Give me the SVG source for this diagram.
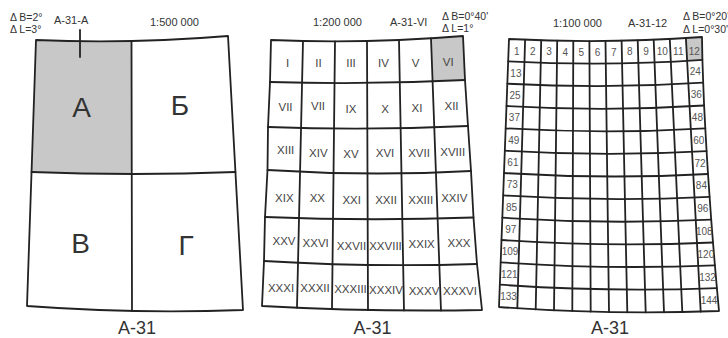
<svg xmlns="http://www.w3.org/2000/svg" width="728" height="338" viewBox="0 0 728 338">
<style>
.g{fill:none;stroke:#222;stroke-width:1.8;stroke-linejoin:round;stroke-linecap:round}
.sh{fill:#c8c8c8;stroke:none}
text{font-family:"Liberation Sans",Arial,sans-serif;fill:#333}
.t{font-size:11px}
.d{font-size:10.5px}
.big{font-size:28px;text-anchor:middle}
.ttl{font-size:18px;text-anchor:middle}
.r{font-size:11.5px;text-anchor:middle;fill:#444}
.n{font-size:10px;text-anchor:middle;fill:#555}
</style>
<rect width="728" height="338" fill="#fff"/>

<!-- Panel 1: 1:500 000 -->
<g id="sheet-500k">
  <path class="sh" d="M36,40 Q84,42 131.5,41 L131.8,174 Q81.5,174 31.5,172 Z"/>
  <path class="g" d="M36,40 Q132,44 228,36 L243,310 Q135,314 27,306 Z"/>
  <path class="g" d="M31.5,172 Q133,176 235.4,172"/>
  <path class="g" d="M131.5,41 L132,311"/>
  <text class="big" x="81.7" y="117">А</text>
  <text class="big" x="180" y="115">Б</text>
  <text class="big" x="80.5" y="253">В</text>
  <text class="big" x="186" y="255">Г</text>
  <text class="d" x="10" y="20.5">Δ B=2°</text>
  <text class="d" x="10" y="33">Δ L=3°</text>
  <text class="t" x="54" y="24">А-31-А</text>
  <text class="t" x="150" y="26">1:500 000</text>
  <text class="ttl" x="137" y="334">А-31</text>
</g>

<!-- Panel 2: 1:200 000 -->
<g id="sheet-200k">
  <path class="sh" d="M431,38.3 Q447,37.6 463,36 L465,80 Q449,81 432.5,81.4 Z"/>
  <path class="g" d="M271,40 Q367,44 463,36 L465,80 L468,126 L471,171 L473.5,217.5 L477,264 L482,310 Q372,312 262,306 L264,261 L265,217 L267.5,170 L268,127 L270,82 Z"/>
  <path class="g" d="M270,82 Q367.5,85 465,80"/>
  <path class="g" d="M268,127 Q368,130.5 468,126"/>
  <path class="g" d="M267.5,170 Q369.25,176.5 471,171"/>
  <path class="g" d="M265,217 Q369.25,221.25 473.5,217.5"/>
  <path class="g" d="M264,261 Q370.5,267.5 477,264"/>
  <path class="g" d="M303,41 L297,307.7"/>
  <path class="g" d="M335,41.3 L332,309"/>
  <path class="g" d="M367,41 L368,309.9"/>
  <path class="g" d="M399,40 L404,310.4"/>
  <path class="g" d="M431,38.3 L441,310.5"/>
  <text class="r" x="287.5" y="66.5">I</text>
  <text class="r" x="318.5" y="66.5">II</text>
  <text class="r" x="351" y="66.5">III</text>
  <text class="r" x="383.5" y="67">IV</text>
  <text class="r" x="415.5" y="67">V</text>
  <text class="r" x="448.3" y="66">VI</text>
  <text class="r" x="285.5" y="110.5">VII</text>
  <text class="r" x="318" y="110">VII</text>
  <text class="r" x="351" y="112.5">IX</text>
  <text class="r" x="385" y="113">X</text>
  <text class="r" x="417" y="111.5">XI</text>
  <text class="r" x="451.5" y="109.5">XII</text>
  <text class="r" x="285.7" y="154.3">XIII</text>
  <text class="r" x="318.3" y="156.7">XIV</text>
  <text class="r" x="351" y="157.7">XV</text>
  <text class="r" x="385" y="156.7">XVI</text>
  <text class="r" x="419" y="156.7">XVII</text>
  <text class="r" x="452.7" y="155.7">XVIII</text>
  <text class="r" x="284.3" y="201.7">XIX</text>
  <text class="r" x="317.3" y="201.7">XX</text>
  <text class="r" x="351.7" y="204">XXI</text>
  <text class="r" x="386" y="204">XXII</text>
  <text class="r" x="420.7" y="204">XXIII</text>
  <text class="r" x="454.3" y="202.3">XXIV</text>
  <text class="r" x="284" y="245">XXV</text>
  <text class="r" x="315.7" y="247.3">XXVI</text>
  <text class="r" x="351.5" y="250">XXVII</text>
  <text class="r" x="385.5" y="250">XXVIII</text>
  <text class="r" x="421.7" y="248.3">XXIX</text>
  <text class="r" x="459" y="247.3">XXX</text>
  <text class="r" x="281" y="291.7">XXXI</text>
  <text class="r" x="315" y="292.3">XXXII</text>
  <text class="r" x="350.5" y="293.3">XXXIII</text>
  <text class="r" x="386" y="294">XXXIV</text>
  <text class="r" x="424" y="295">XXXV</text>
  <text class="r" x="460" y="295">XXXVI</text>
  <text class="t" x="313" y="26">1:200 000</text>
  <text class="t" x="390" y="26">А-31-VI</text>
  <text class="d" x="442" y="19.5">Δ B=0°40'</text>
  <text class="d" x="442" y="32">Δ L=1°</text>
  <text class="ttl" x="372.5" y="333.5">А-31</text>
</g>

<!-- Panel 3: 1:100 000 -->
<g id="sheet-100k">
  <path class="sh" d="M685.9,38.1 Q694,37.6 702,37 L702.4,59.8 Q694.8,60.4 687.1,60.8 Z"/>
  <path class="g" d="M509,39 Q605.5,44 702,37 L702.4,59.8 L703.2,82.7 L704.1,105.5 L705.3,128.3 L706.6,151.2 L708,174 L709.6,196.8 L711.2,219.6 L713,242.5 L714.9,265.3 L716.9,288.1 L719,311 Q609,315 499,307 Z"/>
  <path class="g" d="M508.2,61.3 Q605.3,66.6 702.4,59.8"/>
  <path class="g" d="M507.3,83.7 Q605.3,89.2 703.2,82.7"/>
  <path class="g" d="M506.5,106 Q605.3,111.8 704.1,105.5"/>
  <path class="g" d="M505.7,128.3 Q605.5,134.3 705.3,128.3"/>
  <path class="g" d="M504.8,150.7 Q605.7,156.9 706.6,151.2"/>
  <path class="g" d="M504,173 Q606,179.5 708,174"/>
  <path class="g" d="M503.2,195.3 Q606.4,202.1 709.6,196.8"/>
  <path class="g" d="M502.3,217.7 Q606.8,224.7 711.2,219.6"/>
  <path class="g" d="M501.5,240 Q607.3,247.3 713,242.5"/>
  <path class="g" d="M500.7,262.3 Q607.8,269.8 714.9,265.3"/>
  <path class="g" d="M499.8,284.7 Q608.4,292.4 716.9,288.1"/>
  <path class="g" d="M525.1,39.75 L517.3,308.25"/>
  <path class="g" d="M541.2,40.33 L535.7,309.33"/>
  <path class="g" d="M557.2,40.75 L554,310.25"/>
  <path class="g" d="M573.3,41 L572.3,311"/>
  <path class="g" d="M589.4,41.1 L590.7,311.6"/>
  <path class="g" d="M605.5,41 L609,312"/>
  <path class="g" d="M621.6,40.75 L627.3,312.25"/>
  <path class="g" d="M637.7,40.33 L645.7,312.33"/>
  <path class="g" d="M653.7,39.75 L664,312.25"/>
  <path class="g" d="M669.8,39 L682.3,312"/>
  <path class="g" d="M685.9,38.1 L700.7,311.6"/>
  <text class="n" x="516.7" y="55">1</text>
  <text class="n" x="532.9" y="55">2</text>
  <text class="n" x="549" y="55">3</text>
  <text class="n" x="565.2" y="55.5">4</text>
  <text class="n" x="581.3" y="55.5">5</text>
  <text class="n" x="597.5" y="55.5">6</text>
  <text class="n" x="613.7" y="55.5">7</text>
  <text class="n" x="629.9" y="55">8</text>
  <text class="n" x="646" y="55">9</text>
  <text class="n" x="662.2" y="55">10</text>
  <text class="n" x="678.3" y="54.5">11</text>
  <text class="n" x="694.3" y="54.5">12</text>
  <text class="n" x="515.9" y="76.5">13</text>
  <text class="n" x="515.1" y="98.8">25</text>
  <text class="n" x="514.4" y="121.2">37</text>
  <text class="n" x="513.7" y="143.5">49</text>
  <text class="n" x="512.9" y="165.8">61</text>
  <text class="n" x="512.2" y="188.2">73</text>
  <text class="n" x="511.5" y="210.5">85</text>
  <text class="n" x="510.7" y="232.8">97</text>
  <text class="n" x="510" y="255.2">109</text>
  <text class="n" x="509.3" y="277.5">121</text>
  <text class="n" x="508.5" y="299.8">133</text>
  <text class="n" x="695.2" y="75.2">24</text>
  <text class="n" x="696.3" y="98">36</text>
  <text class="n" x="697.4" y="120.9">48</text>
  <text class="n" x="698.7" y="143.7">60</text>
  <text class="n" x="700" y="166.5">72</text>
  <text class="n" x="701.4" y="189.4">84</text>
  <text class="n" x="702.8" y="212.2">96</text>
  <text class="n" x="704.3" y="235">108</text>
  <text class="n" x="705.9" y="257.9">120</text>
  <text class="n" x="707.5" y="280.7">132</text>
  <text class="n" x="709.1" y="303.5">144</text>
  <text class="t" x="553" y="26.5">1:100 000</text>
  <text class="t" x="628" y="26.5">А-31-12</text>
  <text class="d" x="683" y="20">Δ B=0°20'</text>
  <text class="d" x="683" y="33">Δ L=0°30'</text>
  <text class="ttl" x="610" y="333.5">А-31</text>
</g>

<g id="connectors">
  <path class="g" d="M80,30 L80,57"/>
</g>
</svg>
